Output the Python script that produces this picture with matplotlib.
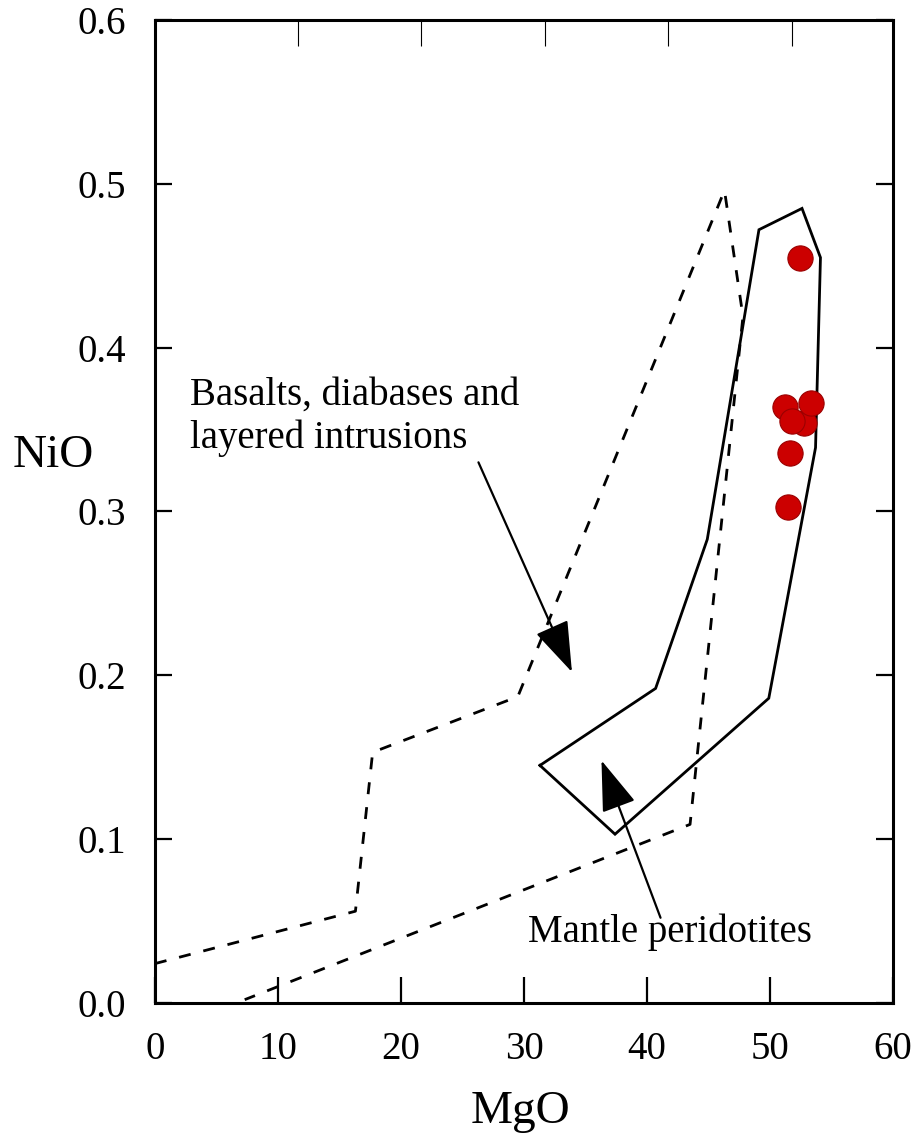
import matplotlib
matplotlib.use('Agg')
import matplotlib.pyplot as plt
from matplotlib.patches import FancyArrowPatch

plt.rcParams['font.family'] = ['Liberation Serif', 'DejaVu Serif']

# 数据：地幔橄榄岩区域（实线）
mantle_mgo = [31.3, 37.4, 49.9, 53.7, 54.1, 52.6, 49.1, 44.9, 40.7, 31.3]
mantle_nio = [0.145, 0.103, 0.186, 0.339, 0.455, 0.485, 0.472, 0.283, 0.192, 0.145]

# 玄武岩、辉绿岩及层状侵入体区域（虚线）
basalt_mgo = [0.0, 16.3, 17.7, 29.5, 46.3, 47.8, 43.5, 7.3]
basalt_nio = [0.024, 0.056, 0.153, 0.187, 0.496, 0.419, 0.109, 0.002]

# 样品点
sample_mgo = [52.4, 52.8, 51.2, 53.3, 51.8, 51.6, 51.5]
sample_nio = [0.455, 0.354, 0.364, 0.366, 0.355, 0.336, 0.303]

x_ticks = [0, 10, 20, 30, 40, 50, 60]
y_ticks = [0.0, 0.1, 0.2, 0.3, 0.4, 0.5, 0.6]
top_ticks = [11.6, 21.6, 31.7, 41.7, 51.8]

fig = plt.figure(figsize=(9.22, 11.44), dpi=100)
ax = fig.add_axes([0.168, 0.1233, 0.8006, 0.8592])

ax.plot(basalt_mgo, basalt_nio, color='black', lw=2.0, dashes=(4.3, 4.7))
ax.plot(mantle_mgo, mantle_nio, color='black', lw=2.0, solid_joinstyle='miter')
ax.scatter(sample_mgo, sample_nio, s=330, color='#cc0000', edgecolors='#9a0000',
           linewidths=0.8, zorder=5)

# 注释文字和箭头
ax.text(2.85, 0.365, 'Basalts, diabases and', fontsize=28, ha='left', va='baseline')
ax.text(2.85, 0.339, 'layered intrusions', fontsize=28, ha='left', va='baseline')
ax.text(30.3, 0.037, 'Mantle peridotites', fontsize=28, ha='left', va='baseline')

for tail, tip in [((26.3, 0.330), (33.9, 0.202)), ((41.1, 0.052), (36.3, 0.148))]:
    arr = FancyArrowPatch(tail, tip, arrowstyle='-|>,head_length=1.6,head_width=0.55',
                          mutation_scale=20, color='black', lw=1.6,
                          shrinkA=0, shrinkB=0)
    ax.add_patch(arr)

ax.set_xlim(0, 60)
ax.set_ylim(0, 0.6)
ax.set_xticks(x_ticks)
ax.set_xticklabels([str(v) for v in x_ticks])
ax.set_yticks(y_ticks)
ax.set_yticklabels(['%.1f' % v for v in y_ticks])
ax.tick_params(axis='x', direction='in', length=19, width=1.6, labelsize=28, pad=20)
ax.tick_params(axis='y', direction='in', length=12, width=1.6, labelsize=28, pad=21,
               right=True)
for s in ax.spines.values():
    s.set_linewidth(2.2)

# 顶部刻度
top = ax.secondary_xaxis('top')
top.set_xticks(top_ticks)
top.set_xticklabels([])
top.tick_params(direction='in', length=19, width=0.8)
top.spines['top'].set_visible(False)

ax.set_xlabel('MgO', fontsize=34, va='baseline', ha='center')
ax.xaxis.set_label_coords(0.495, -0.122)
ax.set_ylabel('NiO', fontsize=34, rotation=0, va='center', ha='center')
ax.yaxis.set_label_coords(-0.138, 0.557)

fig.savefig('out.png', dpi=100)
